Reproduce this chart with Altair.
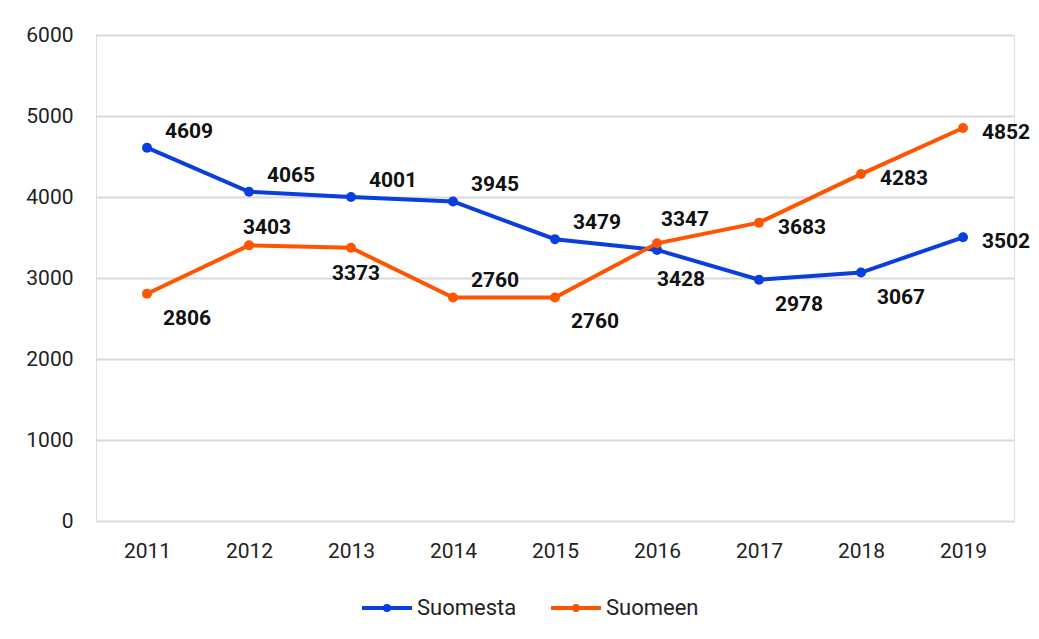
import altair as alt
import pandas as pd

years = ["2011", "2012", "2013", "2014", "2015", "2016", "2017", "2018", "2019"]
suomesta = [4609, 4065, 4001, 3945, 3479, 3347, 2978, 3067, 3502]
suomeen = [2806, 3403, 3373, 2760, 2760, 3428, 3683, 4283, 4852]
series_names = ["Suomesta", "Suomeen"]
series_colors = ["#0B3FDB", "#FF5500"]
y_ticks = [0, 1000, 2000, 3000, 4000, 5000, 6000]

# label placement keys (style only)
place_suomesta = ["ar", "ar", "ar", "ar", "ar", "aa", "br", "br", "r"]
place_suomeen = ["br", "a", "b", "ar", "br", "bb", "r", "r", "r"]
offsets = {
    "ar": (42, -16),
    "aa": (28, -30),
    "br": (40, 25),
    "r": (43, 5),
    "a": (18, -17),
    "b": (5, 26),
    "bb": (24, 37),
}

rows = []
for i, y in enumerate(years):
    rows.append({"year": y, "series": "Suomesta", "value": suomesta[i], "place": place_suomesta[i]})
    rows.append({"year": y, "series": "Suomeen", "value": suomeen[i], "place": place_suomeen[i]})
df = pd.DataFrame(rows)

FONT = "Roboto"
W, H = 918, 486

x_enc = alt.X("year:O", title=None, sort=years,
              scale=alt.Scale(paddingOuter=0.5),
              axis=alt.Axis(labelAngle=0, ticks=False, domain=False, grid=False,
                            labelFontSize=21, labelColor="#222", labelPadding=19,
                            labelFont=FONT))
y_enc = alt.Y("value:Q", title=None,
              scale=alt.Scale(domain=[0, 6000], nice=False),
              axis=alt.Axis(values=y_ticks, format="d", ticks=False, domain=False,
                            gridColor="#D9D9D9", gridWidth=2,
                            labelFontSize=21, labelColor="#222", labelPadding=23,
                            labelFont=FONT))
color_enc = alt.Color("series:N", sort=series_names,
                      scale=alt.Scale(domain=series_names, range=series_colors),
                      legend=alt.Legend(title=None, orient="none", direction="horizontal",
                                        legendX=264, legendY=546,
                                        symbolType="M-1,0L1,0M-0.08,0A0.08,0.08,0,1,0,0.08,0A0.08,0.08,0,1,0,-0.08,0",
                                        symbolSize=2500, symbolStrokeWidth=4,
                                        labelFontSize=22, labelColor="#222", labelFont=FONT,
                                        labelOffset=3, columnPadding=26))

base = alt.Chart(df)

line = base.mark_line(strokeWidth=4).encode(x=x_enc, y=y_enc, color=color_enc)
points = base.mark_circle(size=100, opacity=1).encode(
    x=alt.X("year:O", sort=years),
    y="value:Q",
    color=alt.Color("series:N", sort=series_names, legend=None,
                    scale=alt.Scale(domain=series_names, range=series_colors)))

layers = [line, points]
for key, (dx, dy) in offsets.items():
    layers.append(
        base.transform_filter(alt.datum.place == key)
        .mark_text(dx=dx, dy=dy, fontSize=21, fontWeight="bold", font=FONT, color="#111")
        .encode(x=alt.X("year:O", sort=years), y="value:Q", text="value:Q")
    )

chart = alt.layer(*layers).properties(
    width=W, height=H,
    autosize=alt.AutoSizeParams(type="none"),
    padding={"left": 88, "top": 27, "right": 17, "bottom": 108},
).configure_view(stroke=None).configure(background="white")

chart.save("out.html", embed_options={"renderer": "svg", "actions": False})
